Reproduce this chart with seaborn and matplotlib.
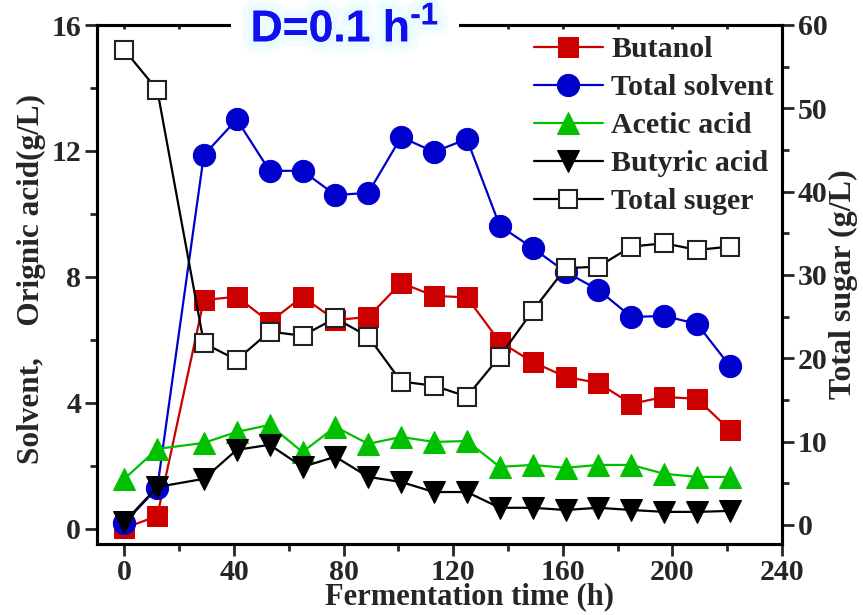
import matplotlib
matplotlib.use("Agg")
import matplotlib.pyplot as plt
import matplotlib.patheffects as pe
from matplotlib.ticker import MultipleLocator
import seaborn as sns
import pandas as pd

# ---- data ----
time_h = [0, 12, 29, 41, 53, 65, 77, 89, 101, 113, 125, 137, 149, 161, 173, 185, 197, 209, 221]
butanol = [0.02, 0.41, 7.27, 7.37, 6.57, 7.37, 6.63, 6.73, 7.81, 7.40, 7.35, 5.94, 5.30, 4.83, 4.63, 3.97, 4.19, 4.13, 3.14]
total_solvent = [0.19, 1.30, 11.87, 13.00, 11.37, 11.37, 10.60, 10.67, 12.44, 11.97, 12.38, 9.62, 8.92, 8.16, 7.59, 6.73, 6.76, 6.51, 5.17]
acetic_acid = [1.59, 2.54, 2.73, 3.08, 3.30, 2.44, 3.24, 2.70, 2.92, 2.76, 2.79, 1.97, 2.03, 1.94, 2.03, 2.03, 1.75, 1.65, 1.65]
butyric_acid = [0.22, 1.33, 1.59, 2.51, 2.67, 1.97, 2.29, 1.65, 1.49, 1.17, 1.17, 0.67, 0.67, 0.60, 0.67, 0.60, 0.54, 0.54, 0.57]
total_sugar = [57.0, 52.2, 21.8, 19.8, 23.2, 22.7, 24.8, 22.6, 17.2, 16.7, 15.4, 20.2, 25.7, 30.8, 31.0, 33.4, 33.8, 33.0, 33.4]

labels = ["Butanol", "Total solvent", "Acetic acid", "Butyric acid", "Total suger"]
title_text = r"D=0.1 h$^{\text{-1}}$"
xlabel = "Fermentation time (h)"
ylabel_left = "Solvent,    Orignic acid(g/L)"
ylabel_right = "Total sugar (g/L)"

sns.set_style("ticks")
plt.rcParams["font.family"] = ["Liberation Serif", "DejaVu Serif"]
plt.rcParams["font.weight"] = "bold"
plt.rcParams["mathtext.fontset"] = "custom"
plt.rcParams["mathtext.bf"] = "Liberation Sans:bold"
plt.rcParams["mathtext.rm"] = "Liberation Sans:bold"

fig = plt.figure(figsize=(8.63, 6.15), dpi=100)
ax = fig.add_axes([97/863, 1 - 544/615, (782-97)/863, (544-25)/615])
ax2 = ax.twinx()

df = pd.DataFrame({"t": time_h, "butanol": butanol, "solvent": total_solvent,
                   "acetic": acetic_acid, "butyric": butyric_acid, "sugar": total_sugar})

lw = 1.6
sns.lineplot(data=df, x="t", y="butanol", ax=ax, color="#cc0000", marker="s", markersize=14,
             markeredgecolor="#cc0000", lw=lw, label=labels[0], legend=False)
sns.lineplot(data=df, x="t", y="solvent", ax=ax, color="#0000cc", marker="o", markersize=16,
             markeredgecolor="#0000cc", lw=lw, label=labels[1], legend=False)
sns.lineplot(data=df, x="t", y="acetic", ax=ax, color="#00c000", marker="^", markersize=16,
             markeredgecolor="#00c000", lw=lw, label=labels[2], legend=False)
sns.lineplot(data=df, x="t", y="butyric", ax=ax, color="black", marker="v", markersize=16,
             markeredgecolor="black", lw=lw, label=labels[3], legend=False)
sns.lineplot(data=df, x="t", y="sugar", ax=ax2, color="black", marker="s", markersize=13,
             markerfacecolor="white", markeredgecolor="#222222", markeredgewidth=1.5,
             lw=lw, label=labels[4], legend=False)

ax.set_xlim(-10, 240)
ax.set_ylim(-0.48, 16)
ax2.set_ylim(-2.3, 60)

ax.xaxis.set_major_locator(MultipleLocator(40))
ax.xaxis.set_minor_locator(MultipleLocator(20))
ax.yaxis.set_major_locator(MultipleLocator(4))
ax.yaxis.set_minor_locator(MultipleLocator(2))
ax2.yaxis.set_major_locator(MultipleLocator(10))
ax2.yaxis.set_minor_locator(MultipleLocator(5))

for a in (ax, ax2):
    for s in a.spines.values():
        s.set_linewidth(2.2)
        s.set_color("black")

fs = 21.5
ax.tick_params(axis="both", which="major", direction="out", length=8.5, width=2, labelsize=fs, pad=3)
ax.tick_params(axis="both", which="minor", direction="out", length=5, width=2)
ax.tick_params(axis="x", which="both", top=True, labeltop=False)
ax.tick_params(axis="x", which="major", pad=2)
ax2.tick_params(axis="y", which="major", direction="out", length=8.5, width=2, labelsize=fs, pad=3)
ax2.tick_params(axis="y", which="minor", direction="out", length=5, width=2)
# top ticks drawn inward
for t in ax.xaxis.get_major_ticks() + ax.xaxis.get_minor_ticks():
    t.tick2line.set_markersize(3)
    t.tick2line.set_marker(3)

for lab in ax.get_xticklabels() + ax.get_yticklabels() + ax2.get_yticklabels():
    lab.set_fontweight("bold")

ax.set_xlabel(xlabel, fontsize=22, fontweight="bold")
ax.xaxis.set_label_coords(0.544, -0.0745)
ax.set_ylabel(ylabel_left, fontsize=22.5, fontweight="bold")
ax.yaxis.set_label_coords(-0.074, 0.51)
ax2.set_ylabel(ylabel_right, fontsize=23, fontweight="bold", labelpad=1)

h1, l1 = ax.get_legend_handles_labels()
h2, l2 = ax2.get_legend_handles_labels()
leg = ax2.legend(h1 + h2, l1 + l2, loc="upper left", bbox_to_anchor=(0.629, 0.99),
                 frameon=False, fontsize=21.5, handlelength=2.3, handletextpad=0.3,
                 labelspacing=0.37, borderpad=0.2, borderaxespad=0)
for txt in leg.get_texts():
    txt.set_fontweight("bold")

fig.text(345/863, 1 - 29/615, title_text, ha="center", va="center",
         fontsize=32, color="#1010ee", family="Liberation Sans", fontweight="bold",
         bbox=dict(boxstyle="square,pad=0.45", facecolor="white", edgecolor="none"),
         path_effects=[pe.withStroke(linewidth=16, foreground="#f3fdff"),
                       pe.withStroke(linewidth=8, foreground="#e9fbff"), pe.Normal()],
         zorder=10)

fig.savefig("out.png", dpi=100)
